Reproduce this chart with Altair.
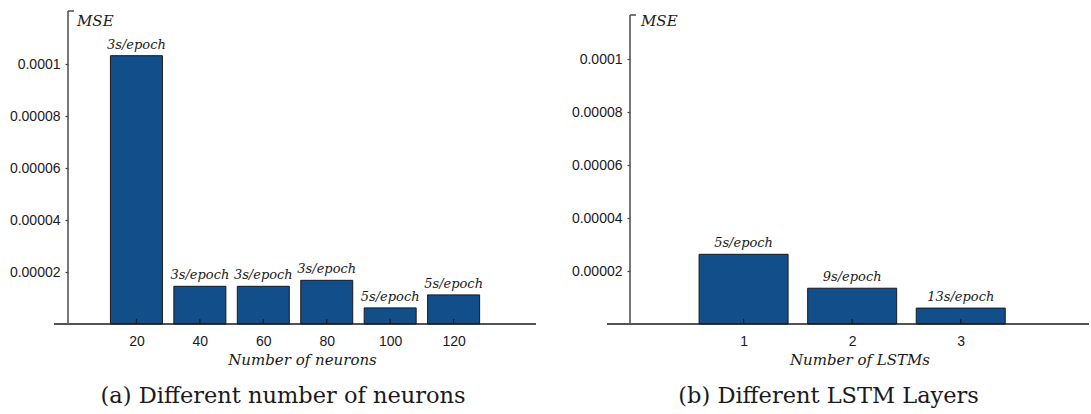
import altair as alt
import pandas as pd

# Panel (a): MSE against the number of neurons
neurons = [20, 40, 60, 80, 100, 120]
mse_neurons = [1.032e-4, 1.45e-5, 1.45e-5, 1.68e-5, 6.2e-6, 1.12e-5]
time_neurons = ["3s/epoch", "3s/epoch", "3s/epoch", "3s/epoch", "5s/epoch", "5s/epoch"]

# Panel (b): MSE against the number of stacked LSTM layers
layers = [1, 2, 3]
mse_layers = [2.63e-5, 1.35e-5, 6.0e-6]
time_layers = ["5s/epoch", "9s/epoch", "13s/epoch"]

y_ticks = [0.00002, 0.00004, 0.00006, 0.00008, 0.0001]

BLUE = "#124e89"
INK = "#1a1a1a"
SERIF = "DejaVu Serif"
SANS = "Liberation Sans"


def panel(x_vals, y_vals, t_vals, x_ticks, x_max, y_max, width, height,
          bar_w, x_title, caption, cap_dx, axis_left, axis_top, mse_dx, mse_dy):
    df = pd.DataFrame({"x": x_vals, "mse": y_vals, "time": t_vals})
    one = pd.DataFrame({"k": [0]})

    x = alt.X("x:Q",
              scale=alt.Scale(domain=[0, x_max], nice=False, zero=False),
              axis=alt.Axis(values=x_ticks, title=x_title, format="d",
                            domain=False, ticks=False,
                            grid=False, labelFont=SANS, labelFontSize=14,
                            labelColor=INK, labelPadding=10,
                            titleFont=SERIF, titleFontStyle="italic",
                            titleFontWeight="normal", titleFontSize=15,
                            titleColor=INK, titlePadding=4))
    y = alt.Y("mse:Q",
              scale=alt.Scale(domain=[0, y_max], nice=False),
              axis=alt.Axis(values=y_ticks, title=None, domain=False, grid=False,
                            labelExpr="format(datum.value, '.5~f')",
                            labelFont=SANS, labelFontSize=14, labelColor=INK,
                            tickSize=3, tickColor="#444", tickWidth=1.2,
                            labelPadding=5))

    base = alt.Chart(df)
    bars = base.mark_bar(width=bar_w, color=BLUE, stroke=INK,
                         strokeWidth=1).encode(x=x, y=y)
    labels = base.mark_text(baseline="bottom", dy=-4, font=SERIF,
                            fontStyle="italic", fontSize=13,
                            color=INK).encode(x="x:Q", y="mse:Q", text="time:N")
    xticks = base.mark_rule(color=INK, strokeWidth=1.2).encode(
        x="x:Q", y=alt.value(height), y2=alt.value(height - 5))

    x_line = alt.Chart(one).mark_rule(color=INK, strokeWidth=1.6).encode(
        x=alt.value(axis_left), x2=alt.value(width), y=alt.value(height))
    y_line = alt.Chart(one).mark_rule(color="#555", strokeWidth=1.6).encode(
        x=alt.value(0), y=alt.value(axis_top), y2=alt.value(height))
    y_cap = alt.Chart(one).mark_rule(color="#555", strokeWidth=1.6).encode(
        x=alt.value(0), x2=alt.value(6), y=alt.value(axis_top))
    mse = alt.Chart(one).mark_text(align="left", baseline="middle", font=SERIF,
                                   fontStyle="italic", fontSize=15,
                                   color=INK).encode(
        x=alt.value(mse_dx), y=alt.value(mse_dy), text=alt.value("MSE"))

    return alt.layer(bars, xticks, labels, x_line, y_line, y_cap, mse).properties(
        width=width, height=height,
        title=alt.TitleParams(caption, orient="bottom", anchor="middle",
                              frame="bounds", font=SERIF, fontSize=22.5,
                              fontWeight="normal", color=INK, offset=18,
                              dx=cap_dx))


left = panel(neurons, mse_neurons, time_neurons, neurons, 144.4,
             313 / 2.6e6, 468, 313, 52, "Number of neurons",
             "(a) Different number of neurons", 10, -14, 0, 9, 10)
right = panel(layers, mse_layers, time_layers, layers, 459 / 111,
              313 / 2.65e6, 459, 313, 89, "Number of LSTMs",
              "(b) Different LSTM Layers", -2, -23, 4, 11, 10)

chart = alt.hconcat(left, right, spacing=34).properties(
    padding={"left": 9, "top": 10, "right": 0, "bottom": 0},
    background="white",
).configure_view(strokeWidth=0, stroke=None)

chart.save("out.html", embed_options={"renderer": "svg", "actions": False})
